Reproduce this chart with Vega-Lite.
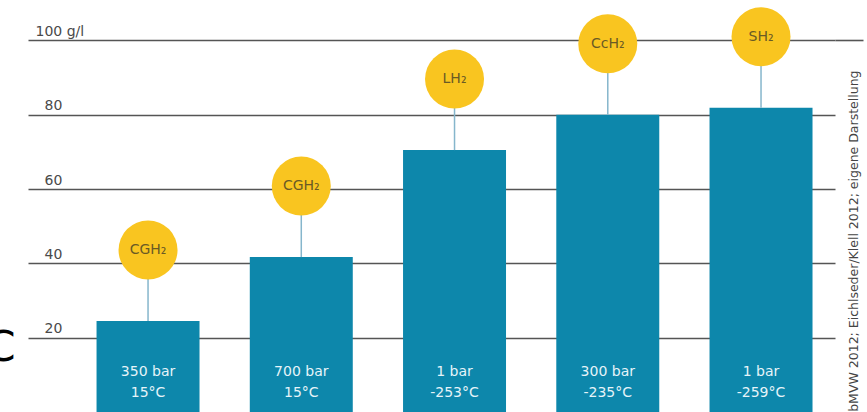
{
  "$schema": "https://vega.github.io/schema/vega-lite/v6.json",
  "width": 807,
  "height": 412,
  "padding": {"left": 28, "top": 0, "right": 32, "bottom": 0},
  "autosize": {"type": "none"},
  "background": "white",
  "config": {"view": {"stroke": null}, "font": "DejaVu Sans"},
  "data": {
    "values": [
      {"form": "CGH₂ 350", "label": "CGH₂", "value": 24.5, "conditions": ["350 bar", "15°C"]},
      {"form": "CGH₂ 700", "label": "CGH₂", "value": 41.7, "conditions": ["700 bar", "15°C"]},
      {"form": "LH₂", "label": "LH₂", "value": 70.5, "conditions": ["1 bar", "-253°C"]},
      {"form": "CcH₂", "label": "CcH₂", "value": 80, "conditions": ["300 bar", "-235°C"]},
      {"form": "SH₂", "label": "SH₂", "value": 81.9, "conditions": ["1 bar", "-259°C"]}
    ]
  },
  "encoding": {
    "x": {
      "field": "form",
      "type": "nominal",
      "sort": null,
      "axis": null,
      "scale": {"paddingInner": 0.328, "paddingOuter": 0.297, "align": 0.753}
    }
  },
  "layer": [
    {
      "mark": {"type": "bar", "color": "#0d87ab"},
      "encoding": {
        "y": {
          "field": "value",
          "type": "quantitative",
          "scale": {"domain": [0, 110.9], "nice": false, "zero": true},
          "axis": {
            "orient": "left",
            "values": [20, 40, 60, 80, 100],
            "grid": true,
            "gridColor": "#555555",
            "gridWidth": 1.6,
            "domain": false,
            "ticks": false,
            "tickSize": 0,
            "labelExpr": "datum.value == 100 ? '100 g/l' : datum.label",
            "labelAlign": "left",
            "labelBaseline": "alphabetic",
            "labelPadding": {"condition": {"test": "datum.value == 100", "value": -7}, "value": -16},
            "labelOffset": -5,
            "labelFontSize": 14,
            "labelColor": "#4a4a4a",
            "labelFont": "DejaVu Sans",
            "title": "C",
            "titleAngle": 0,
            "titleFont": "DejaVu Sans",
            "titleFontSize": 42,
            "titleFontWeight": "normal",
            "titleColor": "#000000",
            "titleAlign": "right",
            "titleBaseline": "middle",
            "titleX": -13,
            "titleY": 347
          }
        }
      }
    },
    {
      "mark": {"type": "rule", "color": "#86b6cc", "strokeWidth": 1.5, "y2Offset": -71},
      "encoding": {
        "y": {
          "field": "value",
          "type": "quantitative",
          "axis": {
            "orient": "right",
            "values": [100],
            "grid": false,
            "domain": false,
            "labels": false,
            "ticks": true,
            "tickSize": 28,
            "tickColor": "#555555",
            "tickWidth": 1.6,
            "title": "bMVW 2012; Eichlseder/Klell 2012; eigene Darstellung",
            "titleAngle": 270,
            "titleFont": "DejaVu Sans",
            "titleFontSize": 12.5,
            "titleFontWeight": "normal",
            "titleColor": "#444444",
            "titleAlign": "right",
            "titleBaseline": "middle",
            "titleX": 18,
            "titleY": 70
          }
        },
        "y2": {"field": "value"}
      }
    },
    {
      "mark": {"type": "point", "shape": "circle", "filled": true, "size": 3481, "color": "#f9c520", "opacity": 1, "yOffset": -71},
      "encoding": {
        "y": {"field": "value", "type": "quantitative", "axis": null}
      }
    },
    {
      "mark": {"type": "text", "fontSize": 14, "color": "#6a5a25", "baseline": "middle", "align": "center", "yOffset": -71},
      "encoding": {
        "y": {"field": "value", "type": "quantitative", "axis": null},
        "text": {"field": "label"}
      }
    },
    {
      "mark": {"type": "text", "fontSize": 14, "color": "#e6f4f9", "baseline": "middle", "align": "center", "lineHeight": 21, "yOffset": -40},
      "encoding": {
        "y": {"datum": 0, "type": "quantitative", "axis": null},
        "text": {"field": "conditions"}
      }
    }
  ],
  "resolve": {"axis": {"y": "independent"}}
}
